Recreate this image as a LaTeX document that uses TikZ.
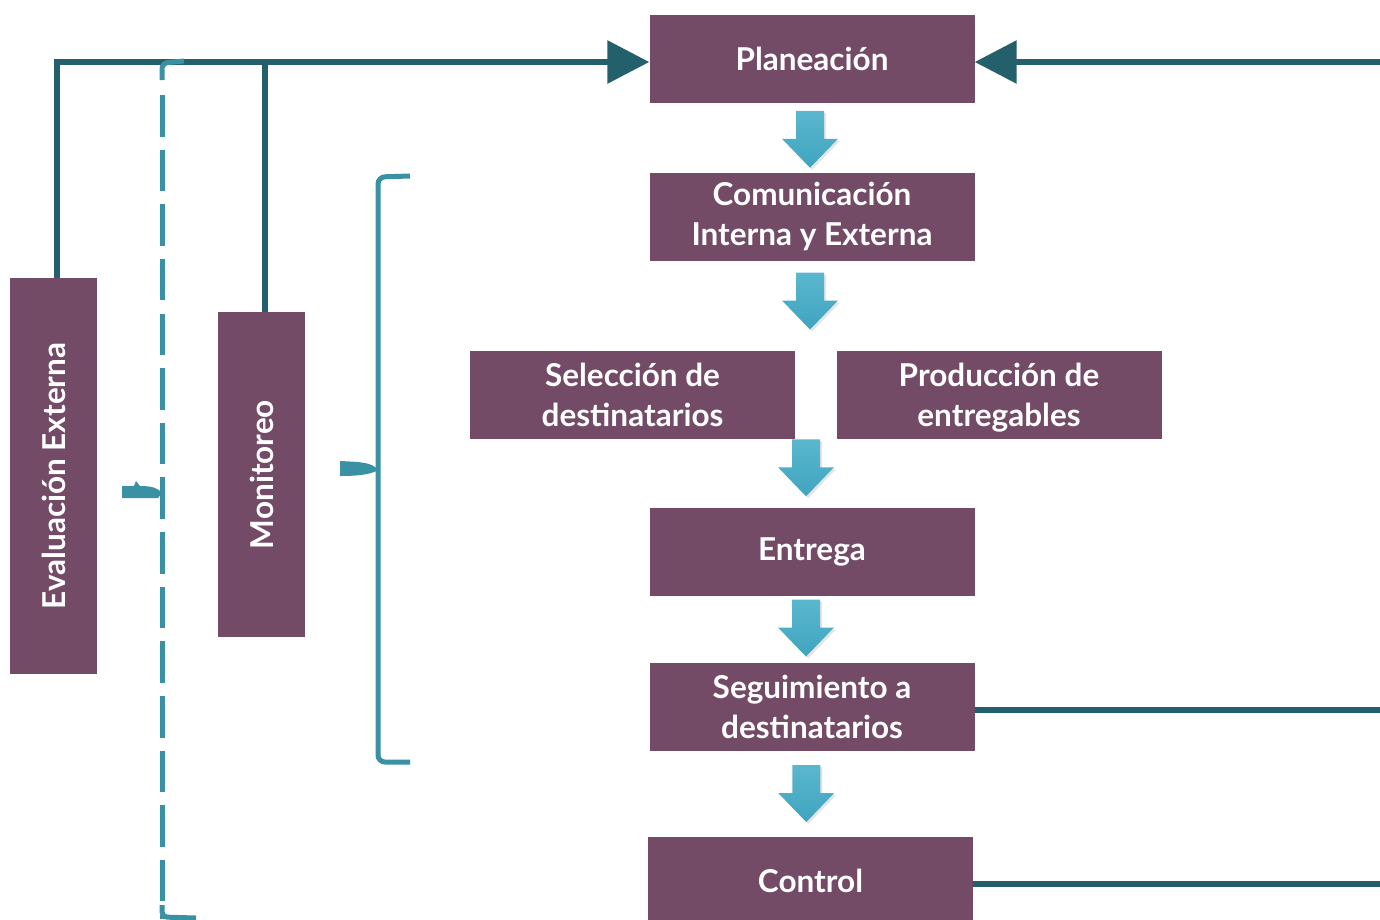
\documentclass[tikz,border=0pt]{standalone}
\usepackage{fontspec}
\setmainfont{Lato}
\usetikzlibrary{arrows.meta,calc}
\definecolor{boxpurple}{HTML}{734B67}
\definecolor{darkteal}{HTML}{24606C}
\definecolor{lightteal}{HTML}{3B91A4}
\definecolor{arrtop}{HTML}{5AB7CE}
\definecolor{arrbot}{HTML}{40A4C0}
\tikzset{
  box/.style={fill=boxpurple, text=white, font=\bfseries\fontsize{31.5}{40}\selectfont,
    align=center, inner sep=0pt, minimum width=325pt, minimum height=88pt},
  dk/.style={draw=darkteal, line width=6pt},
  lt/.style={draw=lightteal, line width=5pt},
  bigtip/.style={-{Triangle[length=42pt,width=42pt]}},
  darrow/.pic={
    \fill[gray!60, opacity=0.35] (16,-27) -- (16,1) -- (30,1) -- (2,30) -- (-26,1) -- (-12,1) -- (-12,-27) -- cycle;
    \shade[top color=arrtop, bottom color=arrbot] (14,-29) -- (14,-1) -- (28,-1) -- (0,28) -- (-28,-1) -- (-14,-1) -- (-14,-29) -- cycle;
  }
}
\begin{document}
\begin{tikzpicture}[x=1pt,y=-1pt]
\useasboundingbox (0,0) rectangle (1380,919);
\clip (0,0) rectangle (1380,919);
% main boxes
\node[box] (plan) at (812,59) {Planeación};
\node[box] (com) at (812,216.5) {Comunicación\\Interna y Externa};
\node[box] (sel) at (632.5,394.5) {Selección de\\destinatarios};
\node[box] (prod) at (999,394.5) {Producción de\\entre\smash{g}ables};
\node[box] (ent) at (812,552) {Entrega};
\node[box] (seg) at (812,707) {Seguimiento a\\destinatarios};
\node[box] (ctl) at (810.5,881) {Control};
\node[box, minimum width=87pt, minimum height=396pt] (eval) at (53.5,476) {\rotatebox{90}{Evaluación Externa}};
\node[box, minimum width=87pt, minimum height=325pt] (mon) at (261.5,474.5) {\rotatebox{90}{Monitoreo}};
% free ends
\coordinate (rE) at (1380,62);
\coordinate (topL) at (57,62);
% block arrows
\pic at ($(plan.south)!.5!(com.north)+(-2,2)$) {darrow};
\pic at ($(com.south)!.5!(com.south|-sel.north)+(-2,-4)$) {darrow};
\pic at ($(ent.north|-sel.south)!.5!(ent.north)+(-6,-5)$) {darrow};
\pic at ($(ent.south)!.5!(seg.north)+(-6,-1)$) {darrow};
\pic at ($(seg.south)!.5!(ctl.north)+(-5,0)$) {darrow};
% connectors
\draw[dk, bigtip] ([xshift=3.5pt]eval.north) |- ([yshift=-3pt]plan.west);
\draw[dk] ([xshift=3.5pt]mon.north) -- ([xshift=3.5pt]mon.north |- topL);
\draw[dk, bigtip] (rE) -- ([yshift=-3pt]plan.east);
\draw[dk] ([yshift=-3pt]seg.east) -- ([yshift=-3pt]seg.east -| rE);
\draw[dk] ([yshift=-3pt]ctl.east) -- ([yshift=-3pt]ctl.east -| rE);
% bracket for Monitoreo
\draw[lt, rounded corners=7pt] (410,176) -- (378,177) -- (378,762) -- (410,762);
\fill[lightteal] (340,461) .. controls (360,462) and (372,462) .. (378,470)
  .. controls (372,474) and (360,476) .. (340,476) -- cycle;
% dashed brace for Evaluación
\draw[lt, rounded corners=6pt] (162,80) -- (162,63) -- (184,61);
\draw[lt, dash pattern=on 41.5pt off 13.14pt] (162,95) -- (162,919);
\draw[lt, rounded corners=5pt] (162,905) -- (162,917) -- (196,918);
\fill[lightteal] (122,486) -- (134,486) -- (136,481) -- (140,486) .. controls (152,486) and (158,488) .. (162,493)
  -- (158,498) -- (122,498) -- cycle;
\end{tikzpicture}
\end{document}
